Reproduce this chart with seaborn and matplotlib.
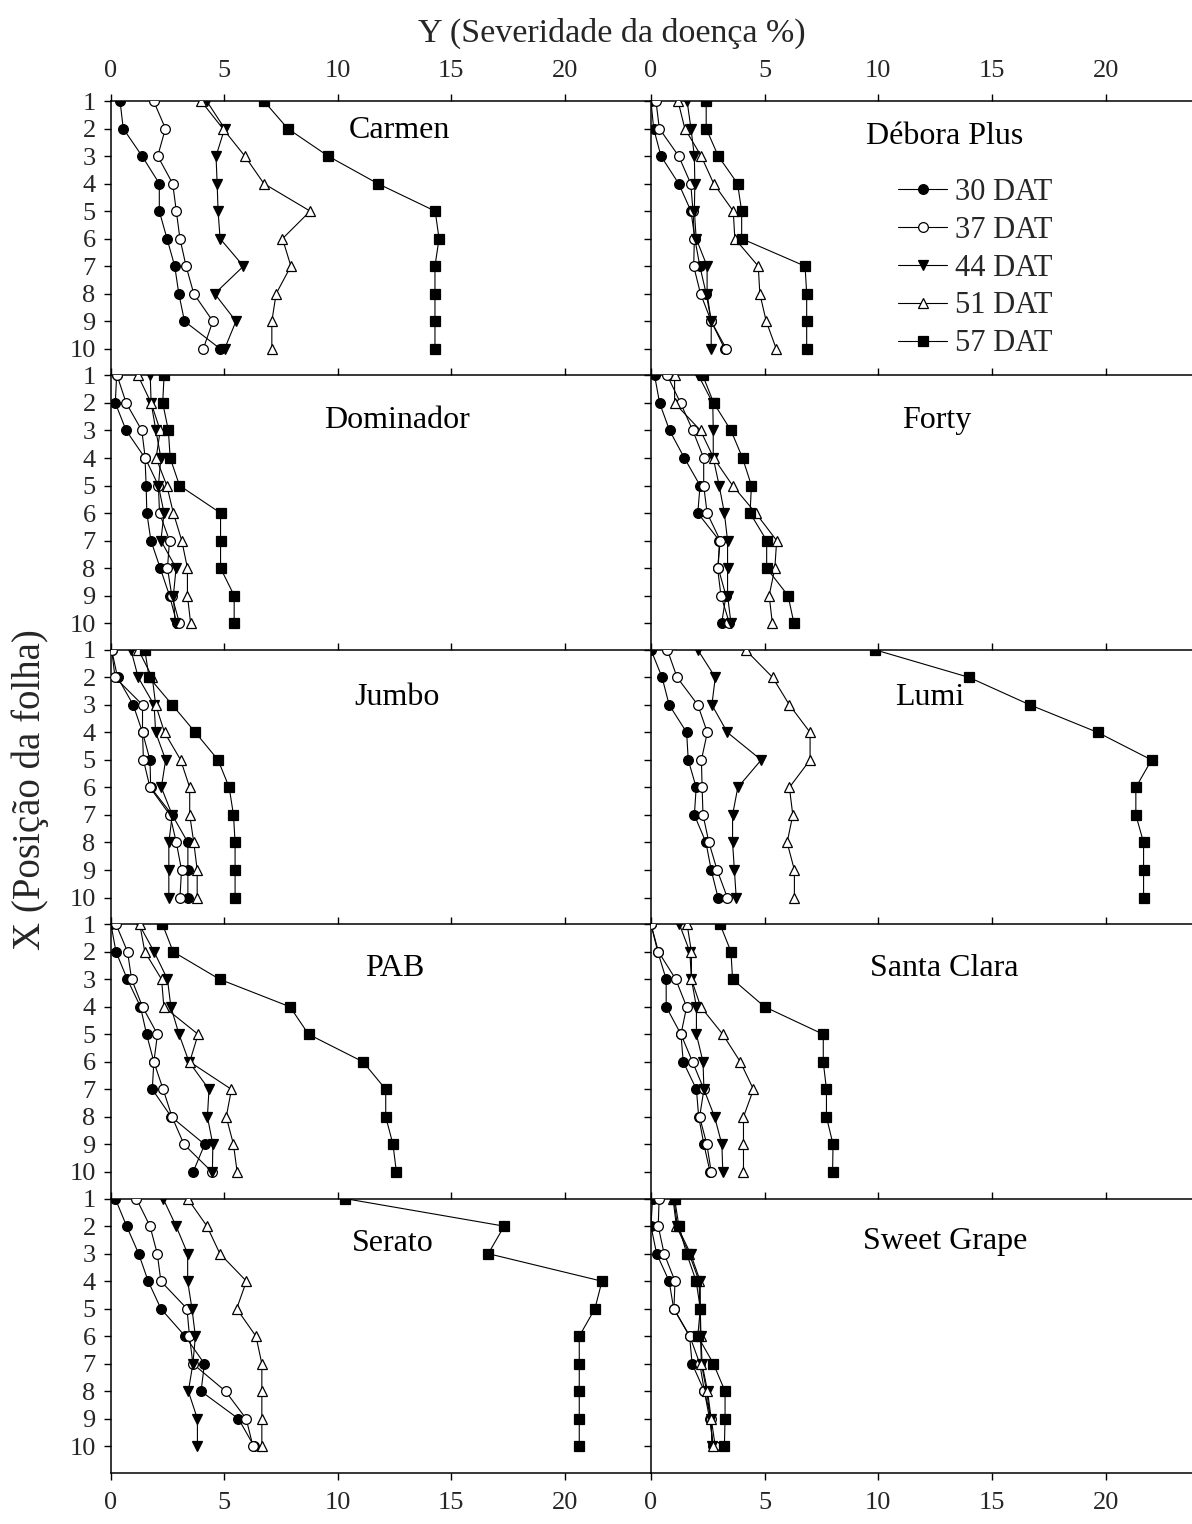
import numpy as np
import pandas as pd
import matplotlib
matplotlib.use("Agg")
import matplotlib.pyplot as plt
import seaborn as sns

# ---------------- data ----------------
positions = [1, 2, 3, 4, 5, 6, 7, 8, 9, 10]
series_labels = ["30 DAT", "37 DAT", "44 DAT", "51 DAT", "57 DAT"]
x_ticks = [0, 5, 10, 15, 20]

carmen_30 = [0.40, 0.54, 1.37, 2.13, 2.13, 2.47, 2.81, 2.99, 3.24, 4.81]
carmen_37 = [1.88, 2.40, 2.06, 2.72, 2.88, 3.04, 3.31, 3.65, 4.49, 4.07]
carmen_44 = [4.22, 5.01, 4.63, 4.68, 4.72, 4.81, 5.84, 4.57, 5.51, 5.01]
carmen_51 = [3.97, 4.93, 5.90, 6.74, 8.78, 7.56, 7.93, 7.28, 7.09, 7.09]
carmen_57 = [6.74, 7.79, 9.57, 11.76, 14.29, 14.46, 14.28, 14.28, 14.28, 14.28]

debora_30 = [0.00, 0.12, 0.44, 1.22, 1.76, 1.93, 2.15, 2.43, 2.65, 3.24]
debora_37 = [0.22, 0.37, 1.22, 1.75, 1.85, 1.91, 1.88, 2.18, 2.65, 3.31]
debora_44 = [1.59, 1.76, 1.91, 1.93, 1.91, 1.99, 2.47, 2.47, 2.65, 2.65]
debora_51 = [1.19, 1.49, 2.21, 2.76, 3.62, 3.69, 4.72, 4.79, 5.07, 5.51]
debora_57 = [2.43, 2.43, 2.96, 3.81, 3.99, 3.99, 6.78, 6.85, 6.85, 6.85]

dominador_30 = [0.25, 0.19, 0.67, 1.50, 1.55, 1.58, 1.76, 2.17, 2.58, 2.90]
dominador_37 = [0.27, 0.67, 1.36, 1.51, 2.09, 2.14, 2.58, 2.49, 2.68, 3.02]
dominador_44 = [1.73, 1.77, 1.98, 2.20, 2.09, 2.34, 2.20, 2.87, 2.75, 2.83]
dominador_51 = [1.19, 1.77, 2.17, 1.99, 2.46, 2.75, 3.12, 3.37, 3.37, 3.51]
dominador_57 = [2.34, 2.28, 2.53, 2.61, 3.02, 4.83, 4.83, 4.83, 5.43, 5.43]

forty_30 = [0.16, 0.38, 0.82, 1.47, 2.16, 2.06, 3.01, 2.96, 3.30, 3.11]
forty_37 = [0.72, 1.30, 1.84, 2.32, 2.32, 2.47, 3.05, 2.93, 3.08, 3.45]
forty_44 = [2.09, 2.72, 2.74, 2.74, 3.00, 3.23, 3.37, 3.37, 3.37, 3.52]
forty_51 = [1.04, 1.04, 2.18, 2.76, 3.59, 4.61, 5.53, 5.45, 5.20, 5.34]
forty_57 = [2.28, 2.76, 3.52, 4.03, 4.42, 4.36, 5.09, 5.09, 6.03, 6.29]

jumbo_30 = [0.03, 0.29, 0.98, 1.39, 1.72, 1.75, 2.70, 3.39, 3.39, 3.39]
jumbo_37 = [0.03, 0.18, 1.39, 1.39, 1.43, 1.72, 2.60, 2.88, 3.11, 3.04]
jumbo_44 = [0.88, 1.20, 1.90, 1.97, 2.41, 2.22, 2.70, 2.55, 2.55, 2.55]
jumbo_51 = [1.21, 1.82, 1.97, 2.36, 3.07, 3.47, 3.47, 3.65, 3.80, 3.80]
jumbo_57 = [1.49, 1.68, 2.70, 3.72, 4.72, 5.21, 5.40, 5.47, 5.47, 5.47]

lumi_30 = [0.00, 0.49, 0.80, 1.57, 1.64, 1.99, 1.91, 2.42, 2.65, 2.95]
lumi_37 = [0.72, 1.15, 2.06, 2.48, 2.22, 2.25, 2.29, 2.55, 2.91, 3.36]
lumi_44 = [2.06, 2.83, 2.68, 3.36, 4.85, 3.82, 3.59, 3.59, 3.67, 3.75]
lumi_51 = [4.16, 5.35, 6.09, 7.00, 7.00, 6.09, 6.24, 5.99, 6.31, 6.31]
lumi_57 = [9.86, 13.99, 16.67, 19.65, 22.02, 21.33, 21.33, 21.67, 21.67, 21.67]

pab_30 = [0.00, 0.22, 0.72, 1.30, 1.57, 1.89, 1.82, 2.66, 4.13, 3.62]
pab_37 = [0.22, 0.73, 0.91, 1.39, 2.05, 1.89, 2.30, 2.69, 3.22, 4.45]
pab_44 = [1.24, 1.90, 2.49, 2.64, 3.00, 3.44, 4.32, 4.25, 4.49, 4.47]
pab_51 = [1.27, 1.49, 2.23, 2.33, 3.84, 3.47, 5.31, 5.08, 5.40, 5.56]
pab_57 = [2.27, 2.74, 4.79, 7.89, 8.71, 11.11, 12.11, 12.11, 12.43, 12.58]

santa_30 = [0.00, 0.30, 0.67, 0.67, 1.32, 1.42, 2.00, 2.10, 2.33, 2.60]
santa_37 = [0.00, 0.33, 1.09, 1.57, 1.32, 1.83, 2.33, 2.14, 2.46, 2.65]
santa_44 = [1.25, 1.71, 1.78, 2.00, 2.00, 2.29, 2.33, 2.80, 3.12, 3.16]
santa_51 = [1.59, 1.78, 1.78, 2.19, 3.16, 3.93, 4.51, 4.07, 4.07, 4.07]
santa_57 = [3.04, 3.52, 3.59, 5.00, 7.58, 7.58, 7.72, 7.72, 8.01, 7.99]

serato_30 = [0.19, 0.69, 1.22, 1.64, 2.20, 3.27, 4.12, 3.97, 5.62, 6.31]
serato_37 = [1.12, 1.72, 2.04, 2.20, 3.35, 3.46, 3.61, 5.05, 5.96, 6.26]
serato_44 = [2.30, 2.87, 3.38, 3.38, 3.57, 3.72, 3.61, 3.41, 3.81, 3.81]
serato_51 = [3.38, 4.23, 4.80, 5.97, 5.54, 6.39, 6.65, 6.65, 6.65, 6.65]
serato_57 = [10.32, 17.33, 16.63, 21.64, 21.33, 20.64, 20.64, 20.64, 20.64, 20.64]

sweet_30 = [0.07, 0.00, 0.25, 0.80, 1.00, 1.70, 1.81, 2.35, 2.58, 2.75]
sweet_37 = [0.36, 0.32, 0.58, 1.06, 1.01, 1.71, 2.15, 2.35, 2.65, 2.83]
sweet_44 = [1.01, 1.16, 1.74, 2.17, 2.17, 2.20, 2.25, 2.49, 2.65, 2.68]
sweet_51 = [0.97, 1.12, 1.68, 2.12, 2.15, 2.18, 2.22, 2.45, 2.62, 2.72]
sweet_57 = [1.04, 1.23, 1.57, 1.99, 2.17, 2.06, 2.75, 3.26, 3.26, 3.23]

cultivars = ["Carmen", "Débora Plus", "Dominador", "Forty", "Jumbo",
             "Lumi", "PAB", "Santa Clara", "Serato", "Sweet Grape"]
panel_series = [
    [carmen_30, carmen_37, carmen_44, carmen_51, carmen_57],
    [debora_30, debora_37, debora_44, debora_51, debora_57],
    [dominador_30, dominador_37, dominador_44, dominador_51, dominador_57],
    [forty_30, forty_37, forty_44, forty_51, forty_57],
    [jumbo_30, jumbo_37, jumbo_44, jumbo_51, jumbo_57],
    [lumi_30, lumi_37, lumi_44, lumi_51, lumi_57],
    [pab_30, pab_37, pab_44, pab_51, pab_57],
    [santa_30, santa_37, santa_44, santa_51, santa_57],
    [serato_30, serato_37, serato_44, serato_51, serato_57],
    [sweet_30, sweet_37, sweet_44, sweet_51, sweet_57],
]

# ---------------- style ----------------
sns.set_theme(style="white")
plt.rcParams["font.family"] = ["Liberation Serif", "DejaVu Serif"]

marker_styles = [
    dict(marker="o", markerfacecolor="black", markersize=7),
    dict(marker="o", markerfacecolor="white", markersize=7),
    dict(marker="v", markerfacecolor="black", markersize=7.5),
    dict(marker="^", markerfacecolor="white", markersize=7.5),
    dict(marker="s", markerfacecolor="black", markersize=6.5),
]
label_pos = [(0.535, 0.891), (0.543, 0.869), (0.530, 0.837), (0.528, 0.837),
             (0.530, 0.828), (0.515, 0.828), (0.526, 0.840), (0.543, 0.840),
             (0.522, 0.835), (0.543, 0.842)]

fig = plt.figure(figsize=(11.92, 15.24), dpi=100)
col_left = [0.0931, 0.5461]
col_width = [0.4530, 0.4539]
top = 0.9337
row_h = 0.18005
tick_fs = 19

for i, (name, series) in enumerate(zip(cultivars, panel_series)):
    r, c = divmod(i, 2)
    ax = fig.add_axes([col_left[c], top - (r + 1) * row_h, col_width[c], row_h])
    for vals, lab, ms in zip(series, series_labels, marker_styles):
        df = pd.DataFrame({"sev": vals, "pos": positions})
        sns.lineplot(data=df, x="sev", y="pos", ax=ax, estimator=None, sort=False,
                     color="black", linewidth=0.8, markeredgecolor="black",
                     markeredgewidth=0.9, legend=False, **ms)
    if ax.get_legend() is not None:
        ax.get_legend().remove()
    ax.set_xlim(0, 23.8)
    ax.set_ylim(10.97, 1)
    ax.set_xticks(x_ticks)
    ax.set_yticks(positions)
    ax.set_xlabel("")
    ax.set_ylabel("")
    ax.tick_params(axis="x", which="both", direction="out", length=5, width=1,
                   top=True, bottom=(r == 4), labeltop=(r == 0),
                   labelbottom=(r == 4), labelsize=tick_fs, color="black")
    ax.tick_params(axis="x", which="both", pad=9)
    if r == 4:
        ax.tick_params(axis="x", pad=9)
    ax.tick_params(axis="y", direction="out", length=5, width=1, left=True,
                   labelleft=(c == 0), labelsize=tick_fs, pad=6, color="black")
    for side in ["top", "left", "bottom"]:
        ax.spines[side].set_visible(True)
        ax.spines[side].set_color("black")
        ax.spines[side].set_linewidth(1.1)
    ax.spines["right"].set_visible(False)
    ax.spines["bottom"].set_visible(r == 4)
    for s in ax.spines.values():
        s.set_zorder(0.5)
    ax.patch.set_alpha(0)
    lx, ly = label_pos[i]
    ax.text(lx, ly, name, transform=ax.transAxes, ha="center", va="center",
            fontsize=23, color="black")
    if i == 1:
        handles = list(ax.lines[:5])
        ax.legend(handles, series_labels, loc="upper left",
                  bbox_to_anchor=(0.457, 0.720), frameon=False, fontsize=22,
                  handlelength=1.6, handletextpad=0.25, labelspacing=0.29,
                  borderpad=0, borderaxespad=0)

fig.text(0.513, 0.978, "Y (Severidade da doença %)", ha="center", va="center",
         fontsize=24.5)
fig.text(0.025, 0.482, "X (Posição da folha)", ha="center", va="center",
         rotation=90, fontsize=28)

fig.savefig("out.png", dpi=100)
